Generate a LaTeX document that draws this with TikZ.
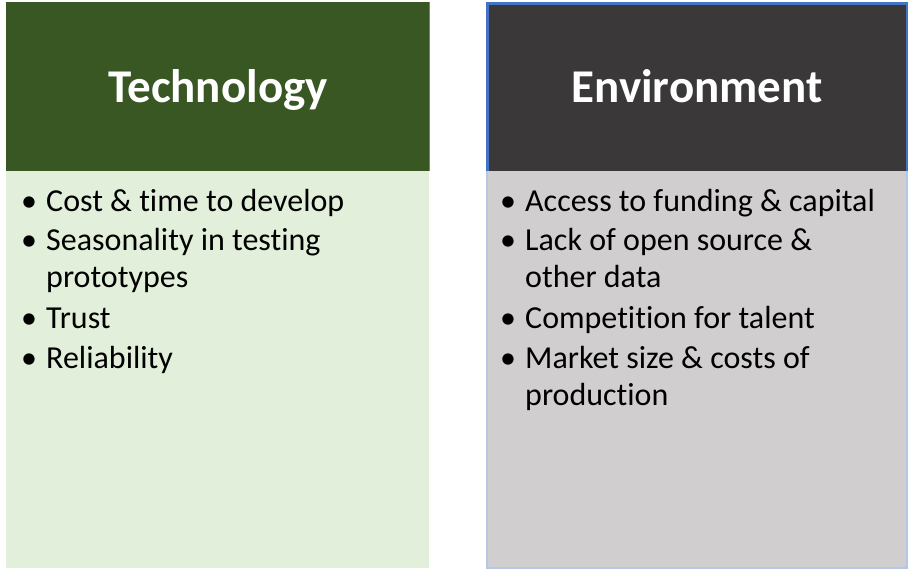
\documentclass[tikz,border=0pt]{standalone}
\usepackage{fontspec}
\setmainfont{Carlito}[Ligatures=NoCommon]
\usetikzlibrary{positioning}

\definecolor{techdark}{RGB}{56,87,35}
\definecolor{techlight}{RGB}{226,239,218}
\definecolor{techedge}{RGB}{112,140,92}
\definecolor{envdark}{RGB}{58,56,56}
\definecolor{envlight}{RGB}{208,206,206}
\definecolor{envedge}{RGB}{68,114,196}
\definecolor{envedgelight}{RGB}{180,199,231}

\tikzset{
  headtext/.style={font=\fontsize{47}{56}\selectfont\bfseries, text=white, anchor=base, inner sep=0pt},
  itemtext/.style={font=\fontsize{32}{38}\selectfont, anchor=base west, inner sep=0pt},
  bul/.style={font=\fontsize{32}{38}\selectfont, anchor=base, inner sep=0pt}
}

\begin{document}
\begin{tikzpicture}[x=1pt,y=-1pt]
  \useasboundingbox (0,0) rectangle (908,569);
% Technology column
  \fill[techdark] (6,2) rectangle (429,171);
  \fill[techlight] (6,171) rectangle (429,568);
  \draw[techedge,line width=0.8pt] (429,2) -- (429,171);
  \node[headtext] (techhead) at (218,103) {Technology};
  \node[bul] (techb1) at (29,212) {\textbullet};
  \node[itemtext] (techi1) at (46,212) {Cost \& time to develop};
  \node[bul] (techb2) at (29,250.5) {\textbullet};
  \node[itemtext] (techi2) at (46,250.5) {Seasonality in testing};
  \node[itemtext] (techi2b) at (46,287.5) {prototypes};
  \node[bul] (techb3) at (29,329) {\textbullet};
  \node[itemtext] (techi3) at (46,329) {Trust};
  \node[bul] (techb4) at (29,369) {\textbullet};
  \node[itemtext] (techi4) at (46,369) {Reliability};
% Environment column
  \fill[envlight] (486,171) rectangle (908,568);
  \draw[envedgelight,line width=1.2pt] (487,171) -- (487,568) -- (907,568) -- (907,171);
  \fill[envedge] (486,2) rectangle (908,171);
  \fill[envdark] (489,5) rectangle (906,171);
  \node[headtext] (envhead) at (697,103) {Environment};
  \node[bul] (envb1) at (508,212) {\textbullet};
  \node[itemtext] (envi1) at (525,212) {Access to funding \& capital};
  \node[bul] (envb2) at (508,251) {\textbullet};
  \node[itemtext] (envi2) at (525,251) {Lack of open source \&};
  \node[itemtext] (envi2b) at (525,288) {other data};
  \node[bul] (envb3) at (508,329) {\textbullet};
  \node[itemtext] (envi3) at (525,329) {Competition for talent};
  \node[bul] (envb4) at (508,369) {\textbullet};
  \node[itemtext] (envi4) at (525,369) {Market size \& costs of};
  \node[itemtext] (envi4b) at (525,406) {production};
\end{tikzpicture}
\end{document}
